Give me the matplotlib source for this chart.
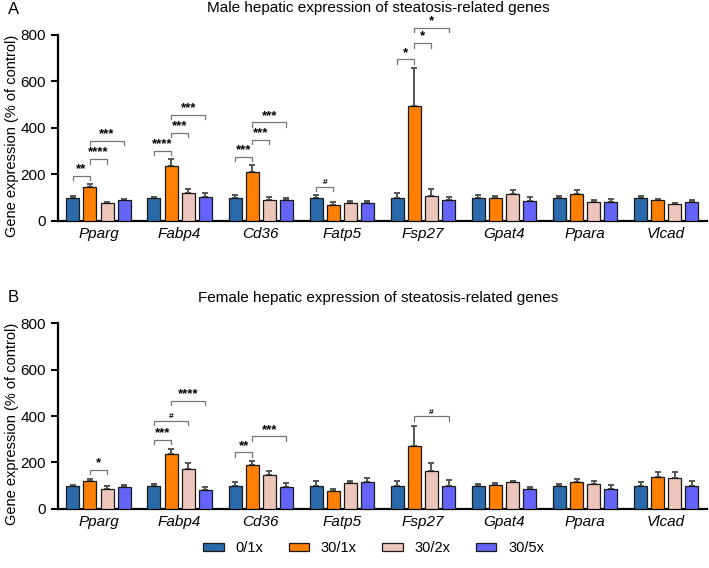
import matplotlib
matplotlib.use("Agg")
import matplotlib.pyplot as plt
import numpy as np

plt.rcParams['font.family'] = ['Liberation Sans', 'DejaVu Sans']

genes = ["Pparg", "Fabp4", "Cd36", "Fatp5", "Fsp27", "Gpat4", "Ppara", "Vlcad"]
groups = ["0/1x", "30/1x", "30/2x", "30/5x"]
colors = ["#2a6aaa", "#ff8000", "#ecc5bb", "#6464fa"]

# Male means and SEM (% of control)
male_01 = [100, 100, 98, 98, 98, 98, 98, 98]
male_301 = [146, 237, 209, 70, 495, 97, 116, 89]
male_302 = [76, 119, 92, 79, 109, 116, 80, 72]
male_305 = [89, 105, 89, 77, 89, 87, 83, 82]
male_01_err = [9, 4, 12, 12, 22, 12, 10, 8]
male_301_err = [13, 30, 33, 10, 163, 9, 16, 7]
male_302_err = [6, 17, 10, 6, 29, 17, 9, 4]
male_305_err = [7, 17, 8, 9, 16, 15, 10, 8]

# Female means and SEM (% of control)
female_01 = [99, 99, 99, 99, 98, 98, 98, 98]
female_301 = [119, 236, 188, 78, 272, 105, 116, 138]
female_302 = [85, 172, 145, 112, 164, 115, 108, 135]
female_305 = [95, 80, 96, 115, 98, 86, 88, 98]
female_01_err = [4, 10, 19, 20, 24, 8, 8, 17]
female_301_err = [9, 24, 17, 10, 87, 6, 12, 20]
female_302_err = [14, 26, 17, 9, 34, 7, 11, 22]
female_305_err = [10, 15, 15, 17, 26, 9, 15, 21]

# Significance annotations: (gene index, bar a, bar b, height, label)
male_sig = [
    (0, 0, 1, 194, "**"), (0, 1, 2, 265, "****"), (0, 1, 3, 343, "***"),
    (1, 0, 1, 301, "****"), (1, 1, 2, 378, "***"), (1, 1, 3, 456, "***"),
    (2, 0, 1, 274, "***"), (2, 1, 2, 348, "***"), (2, 1, 3, 424, "***"),
    (3, 0, 1, 148, "#"),
    (4, 0, 1, 695, "*"), (4, 1, 2, 764, "*"), (4, 1, 3, 829, "*"),
]
female_sig = [
    (0, 1, 2, 167, "*"),
    (1, 0, 1, 296, "***"), (1, 0, 2, 379, "#"), (1, 1, 3, 464, "****"),
    (2, 0, 1, 243, "**"), (2, 1, 3, 312, "***"),
    (4, 1, 3, 398, "#"),
]

fig = plt.figure(figsize=(7.09, 5.68), dpi=100)
ax1 = fig.add_axes([0.0818, 0.611, 0.915, 0.3274])
ax2 = fig.add_axes([0.0818, 0.1039, 0.915, 0.3274])

step = 0.211
width = 0.16
offsets = (np.arange(4) - 1.5) * step
x = np.arange(len(genes))


def draw(ax, means, errs, sigs):
    for i in range(4):
        xs = x + offsets[i]
        ax.bar(xs, means[i], width, color=colors[i], edgecolor="#1a1a1a",
               linewidth=0.9, label=groups[i], zorder=3)
        ax.errorbar(xs, means[i], yerr=[np.zeros(len(genes)), errs[i]],
                    fmt="none", ecolor="#555555", elinewidth=1.4,
                    capsize=2.5, capthick=1.4, zorder=2)
    for g, a, b, h, lab in sigs:
        xa = g + offsets[a]
        xb = g + offsets[b]
        ax.plot([xa, xa, xb, xb], [h - 18, h, h, h - 18], color="#777777",
                lw=0.9, clip_on=False, zorder=4)
        fs = 6 if lab == "#" else 9.5
        ax.text((xa + xb) / 2, h + 3, lab, ha="center", va="bottom",
                fontsize=fs, fontweight="bold", clip_on=False)
    ax.set_xlim(-0.5, len(genes) - 0.5)
    ax.set_ylim(0, 800)
    ax.set_yticks([0, 200, 400, 600, 800])
    ax.tick_params(axis="y", labelsize=11, width=1.5, length=5, direction="out")
    ax.set_xticks(x)
    ax.set_xticklabels(genes, fontstyle="italic", fontsize=11)
    ax.tick_params(axis="x", length=0, pad=4)
    for s in ["top", "right"]:
        ax.spines[s].set_visible(False)
    for s in ["left", "bottom"]:
        ax.spines[s].set_linewidth(1.6)
    ax.set_ylabel("Gene expression (% of control)", fontsize=10.5)
    ax.yaxis.set_label_coords(-0.06, 0.46)


draw(ax1, [male_01, male_301, male_302, male_305],
     [male_01_err, male_301_err, male_302_err, male_305_err], male_sig)
draw(ax2, [female_01, female_301, female_302, female_305],
     [female_01_err, female_301_err, female_302_err, female_305_err], female_sig)

fig.text(0.533, 0.986, "Male hepatic expression of steatosis-related genes",
         fontsize=11, ha="center", va="center")
fig.text(0.533, 0.475, "Female hepatic expression of steatosis-related genes",
         fontsize=11, ha="center", va="center")
fig.text(0.011, 0.984, "A", fontsize=12, va="center")
fig.text(0.011, 0.476, "B", fontsize=12, va="center")

handles, labels = ax1.get_legend_handles_labels()
fig.legend(handles, labels, loc="center", bbox_to_anchor=(0.527, 0.035),
           ncol=4, frameon=False, fontsize=10.5, handlelength=1.4,
           handleheight=0.55, columnspacing=1.75, handletextpad=0.8)

fig.savefig("out.png", dpi=100)
